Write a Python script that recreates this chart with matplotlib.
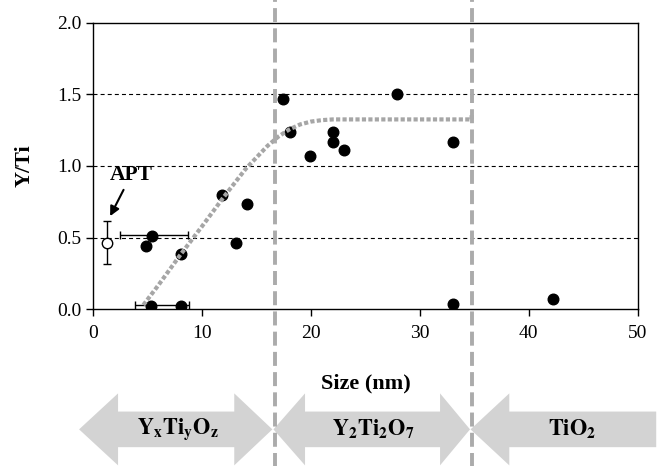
import matplotlib
matplotlib.use("Agg")
import matplotlib.pyplot as plt
from matplotlib.patches import Polygon

plt.rcParams['font.family'] = ['Liberation Serif', 'DejaVu Serif']
plt.rcParams['mathtext.fontset'] = 'stix'

# measured particles (size nm, Y/Ti)
size = [4.8, 5.4, 5.3, 8.1, 8.05, 11.85, 14.1, 13.1, 17.4, 18.05, 19.9,
        22.0, 22.0, 23.0, 27.9, 33.0, 33.0, 42.2]
ratio = [0.44, 0.51, 0.02, 0.02, 0.385, 0.80, 0.735, 0.46, 1.47, 1.24, 1.07,
         1.235, 1.17, 1.11, 1.50, 1.17, 0.035, 0.075]

# horizontal error bars (centre x, y, left, right)
err_x = [5.4, 5.3]
err_y = [0.515, 0.03]
err_left = [2.9, 1.45]
err_right = [3.3, 3.45]

# APT point
apt_x = 1.3
apt_y = 0.465
apt_err = 0.15

# trend curve
trend_x = [4.6, 6, 8, 10, 12, 14, 16, 17, 18, 19, 20, 21, 22, 34.75, 34.75]
trend_y = [0.03, 0.17, 0.38, 0.58, 0.785, 0.98, 1.14, 1.205, 1.255, 1.29, 1.31,
           1.32, 1.325, 1.325, 1.36]

# phase boundaries
boundaries = [16.7, 34.75]

# phase arrows: label, left end, right end, left head, right head, label x
phases = [r'$\mathbf{Y_xTi_yO_z}$', r'$\mathbf{Y_2Ti_2O_7}$', r'$\mathbf{TiO_2}$']
ph_left = [-1.3, 16.55, 34.65]
ph_right = [16.45, 34.6, 51.7]
ph_lhead = [3.58, 2.9, 3.56]
ph_rhead = [3.5, 2.75, 0.0]
ph_textx = [7.8, 25.7, 44.0]

fig = plt.figure(figsize=(6.66, 4.66), dpi=100)
ax = fig.add_axes([0.140, 0.3363, 0.8175, 0.615])

for g in [0.5, 1.0, 1.5]:
    ax.axhline(g, color='black', lw=0.8, linestyle=(0, (3.6, 2.8)), zorder=1)

ax.errorbar(err_x, err_y, xerr=[err_left, err_right], fmt='none', ecolor='black',
            elinewidth=1, capsize=3, capthick=1, zorder=2)
ax.errorbar([apt_x], [apt_y], yerr=[apt_err], fmt='o', ms=7.5, mfc='white',
            mec='black', mew=1, ecolor='black', elinewidth=1, capsize=3,
            capthick=1, zorder=3)
ax.scatter(size, ratio, s=58, color='black', zorder=3)
ax.plot(trend_x, trend_y, color='#a6a6a6', lw=3, linestyle=(0, (1, 0.55)),
        zorder=4)

ax.annotate('APT', xy=(1.55, 0.65), xytext=(3.5, 0.94), ha='center', va='center',
            fontsize=15.5, fontweight='bold',
            arrowprops=dict(arrowstyle='-|>', color='black', lw=1.5,
                            mutation_scale=14, shrinkA=2, shrinkB=0))

for b in boundaries:
    ax.axvline(b, ymin=-0.55, ymax=1.08, clip_on=False, color='#ababab', lw=2.8,
               linestyle=(0, (3.6, 1.6)), zorder=6)

# phase arrows below the axis
tr = ax.get_xaxis_transform()
yc, hh, sh = -0.419, 0.1256, 0.0621
for lab, x0, x1, lh, rh, tx in zip(phases, ph_left, ph_right, ph_lhead, ph_rhead, ph_textx):
    pts = [(x0, yc), (x0 + lh, yc + hh), (x0 + lh, yc + sh)]
    if rh > 0:
        pts += [(x1 - rh, yc + sh), (x1 - rh, yc + hh), (x1, yc),
                (x1 - rh, yc - hh), (x1 - rh, yc - sh)]
    else:
        pts += [(x1, yc + sh), (x1, yc - sh)]
    pts += [(x0 + lh, yc - sh), (x0 + lh, yc - hh)]
    ax.add_patch(Polygon(pts, closed=True, transform=tr, facecolor='#d3d3d3',
                         edgecolor='none', clip_on=False, zorder=5))
    ax.text(tx, yc, lab, transform=tr, ha='center', va='center', fontsize=16,
            zorder=7)

ax.set_xlim(0, 50)
ax.set_ylim(0, 2.0)
ax.set_xticks([0, 10, 20, 30, 40, 50])
ax.set_yticks([0.0, 0.5, 1.0, 1.5, 2.0])
ax.set_yticklabels(['0.0', '0.5', '1.0', '1.5', '2.0'])
ax.tick_params(direction='out', length=5, width=1, labelsize=14)
ax.tick_params(axis='x', pad=6)
ax.tick_params(axis='y', pad=3.5)
for s in ax.spines.values():
    s.set_linewidth(1)

ax.set_xlabel('Size (nm)', fontsize=16, fontweight='bold', labelpad=23)
ax.set_ylabel('Y/Ti', fontsize=16, fontweight='bold', labelpad=16)

fig.savefig('out.png', dpi=100)
